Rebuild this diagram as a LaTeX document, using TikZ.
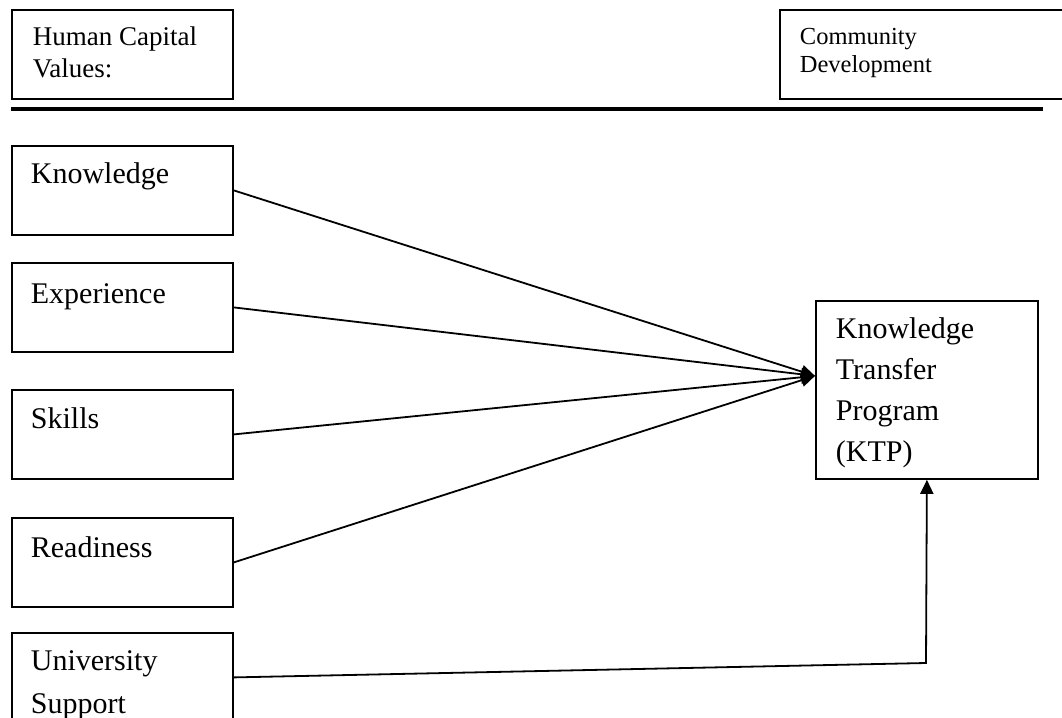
\documentclass[tikz,border=0pt]{standalone}
\usepackage{fontspec}
\setmainfont{Liberation Serif}
\usetikzlibrary{arrows.meta}

\begin{document}
\begin{tikzpicture}[x=1pt, y=-1pt, line width=1.8pt, >={Triangle[length=14pt,width=13pt]}]
    \tikzset{
        block/.style = {rectangle, draw, anchor=north west, inner sep=0pt, minimum width=221pt, minimum height=89pt},
        word/.style = {anchor=north west, align=left, inner sep=0pt, font=\fontsize{30}{41}\selectfont},
    }
    \useasboundingbox (0,0) rectangle (1062,717);

    % header
    \node [block] (hcv) at (11,9) {};
    \node [word,font=\fontsize{27}{32}\selectfont] (hcvtext) at ([shift={(21,17)}]hcv.north west) {Human Capital\\Values:};
    \node [block,minimum width=300pt] (cd) at (779,9) {};
    \node [word,font=\fontsize{24.5}{28}\selectfont] (cdtext) at ([shift={(20,18)}]cd.north west) {Community\\Development};
    \draw [line width=4pt] (11,109) -- (1043,109);

    % human capital values
    \node [block] (know) at (11,145) {};
    \node [word] (knowtext) at ([shift={(19,17)}]know.north west) {Knowledge};
    \node [block] (exp) at (11,262) {};
    \node [word] (exptext) at ([shift={(19,21)}]exp.north west) {Experience};
    \node [block] (skill) at (11,389) {};
    \node [word] (skilltext) at ([shift={(19,18)}]skill.north west) {Skills};
    \node [block] (ready) at (11,517) {};
    \node [word] (readytext) at ([shift={(19,19)}]ready.north west) {Readiness};
    \node [block] (uni) at (11,632) {};
    \node [word,font=\fontsize{30}{43}\selectfont] (unitext) at ([shift={(19,18)}]uni.north west) {University\\Support};

    % program
    \node [block,minimum width=222pt,minimum height=178pt] (ktp) at (815,300) {};
    \node [word] (ktptext) at ([shift={(20,17)}]ktp.north west) {Knowledge\\Transfer\\Program\\(KTP)};

    \coordinate (hub) at ([yshift=14pt]ktp.west);
    \coordinate (turn) at (926,663);

    \draw[->] (know.east) -- (hub);
    \draw[->] (exp.east) -- (hub);
    \draw[->] (skill.east) -- (hub);
    \draw[->] (ready.east) -- (hub);
    \draw[->] (uni.east) -- (turn) -- (ktp.south);
\end{tikzpicture}
\end{document}
